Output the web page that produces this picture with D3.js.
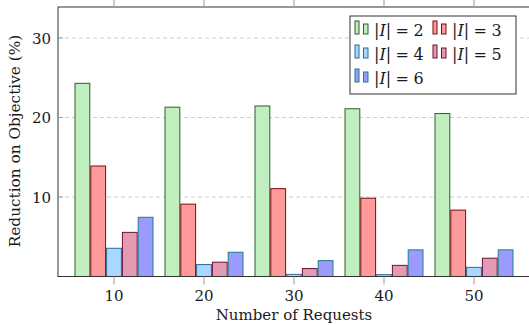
<!DOCTYPE html>
<html><head><meta charset="utf-8">
<script src="https://cdn.jsdelivr.net/npm/d3@7"></script>
<style>
html,body{margin:0;padding:0;background:#fff;}
svg{display:block;}
text{font-family:"DejaVu Serif","Liberation Serif",serif;fill:#1a1a1a;}
</style></head>
<body>
<script>
const requests = [10, 20, 30, 40, 50];
const seriesNames = ["2", "3", "4", "5", "6"];
const valsI2 = [24.3, 21.3, 21.45, 21.1, 20.5];
const valsI3 = [13.9, 9.1, 11.05, 9.85, 8.35];
const valsI4 = [3.55, 1.5, 0.27, 0.23, 1.15];
const valsI5 = [5.55, 1.8, 1.0, 1.4, 2.3];
const valsI6 = [7.45, 3.05, 2.0, 3.35, 3.35];
const yTicks = [10, 20, 30];
const fills = ["#c0efbf", "#ff9a9a", "#a8d8ff", "#e39ab4", "#9a9aff"];
const strokes = ["#2f5f2f", "#7a0a0a", "#2a6a96", "#6e1030", "#1f7f86"];

const series = [valsI2, valsI3, valsI4, valsI5, valsI6];
const W = 529, H = 325;
const svg = d3.select("body").append("svg").attr("width", W).attr("height", H);

const pL = 58, pR = 530, pT = 7, pB = 276.5;
const x = d3.scaleLinear().domain([10, 50]).range([114, 474]);
const y = d3.scaleLinear().domain([0, 33.9]).range([pB, pT]);
const pitch = 15.8, bw = 14.8;
const off = d3.scaleBand().domain(d3.range(5)).range([-2.5 * pitch, 2.5 * pitch]);

// grid
svg.append("g").selectAll("line").data(yTicks).join("line")
  .attr("x1", pL).attr("x2", pR)
  .attr("y1", d => y(d)).attr("y2", d => y(d))
  .attr("stroke", "#cfcfcf").attr("stroke-width", 1).attr("stroke-dasharray", "4,3");

// bars
series.forEach((vals, s) => {
  svg.append("g").selectAll("rect").data(vals).join("rect")
    .attr("x", (d, i) => x(requests[i]) + off(s) + (pitch - bw) / 2)
    .attr("width", bw)
    .attr("y", d => y(d))
    .attr("height", d => y(0) - y(d))
    .attr("fill", fills[s]).attr("stroke", strokes[s]).attr("stroke-width", 1);
});

// frame
svg.append("rect").attr("x", pL).attr("y", pT).attr("width", pR - pL).attr("height", pB - pT)
  .attr("fill", "none").attr("stroke", "#333").attr("stroke-width", 1);

// x ticks (outside, top and bottom)
const xt = svg.append("g");
xt.selectAll("line.b").data(requests).join("line").attr("class", "b")
  .attr("x1", d => x(d)).attr("x2", d => x(d)).attr("y1", pB).attr("y2", pB + 8)
  .attr("stroke", "#999").attr("stroke-width", 1);
xt.selectAll("line.t").data(requests).join("line").attr("class", "t")
  .attr("x1", d => x(d)).attr("x2", d => x(d)).attr("y1", pT).attr("y2", pT - 8)
  .attr("stroke", "#999").attr("stroke-width", 1);
xt.selectAll("text").data(requests).join("text")
  .attr("x", d => x(d)).attr("y", 300.5).attr("text-anchor", "middle")
  .attr("font-size", 15).text(d => d);

// y ticks
const yt = svg.append("g");
yt.selectAll("line").data(yTicks).join("line")
  .attr("x1", pL).attr("x2", pL + 5).attr("y1", d => y(d)).attr("y2", d => y(d))
  .attr("stroke", "#999");
yt.selectAll("text").data(yTicks).join("text")
  .attr("x", pL - 7).attr("y", d => y(d) + 5.5).attr("text-anchor", "end")
  .attr("font-size", 15).text(d => d);

// axis labels
svg.append("text").attr("x", 294).attr("y", 320).attr("text-anchor", "middle")
  .attr("font-size", 15).text("Number of Requests");
svg.append("text").attr("transform", "translate(19.5,141) rotate(-90)")
  .attr("text-anchor", "middle").attr("font-size", 15.3).text("Reduction on Objective (%)");

// legend
const lg = svg.append("g");
lg.append("rect").attr("x", 350).attr("y", 16).attr("width", 166).attr("height", 78)
  .attr("fill", "#fff").attr("stroke", "#333").attr("stroke-width", 1);
const pos = [[355, 36], [433, 36], [355, 60], [433, 60], [355, 84]];
seriesNames.forEach((n, s) => {
  const [px, py] = pos[s];
  const g = lg.append("g");
  g.append("rect").attr("x", px).attr("y", py - 15).attr("width", 4).attr("height", 13)
    .attr("fill", fills[s]).attr("stroke", strokes[s]);
  g.append("rect").attr("x", px + 8.5).attr("y", py - 12).attr("width", 4.5).attr("height", 10)
    .attr("fill", fills[s]).attr("stroke", strokes[s]);
  const t = g.append("text").attr("x", px + 19).attr("y", py).attr("font-size", 16);
  t.append("tspan").text("|");
  t.append("tspan").attr("font-style", "italic").text("I");
  t.append("tspan").text("|");
  t.append("tspan").attr("dx", 4.5).text("=");
  t.append("tspan").attr("dx", 4.5).text(n);
});
</script>
</body></html>
